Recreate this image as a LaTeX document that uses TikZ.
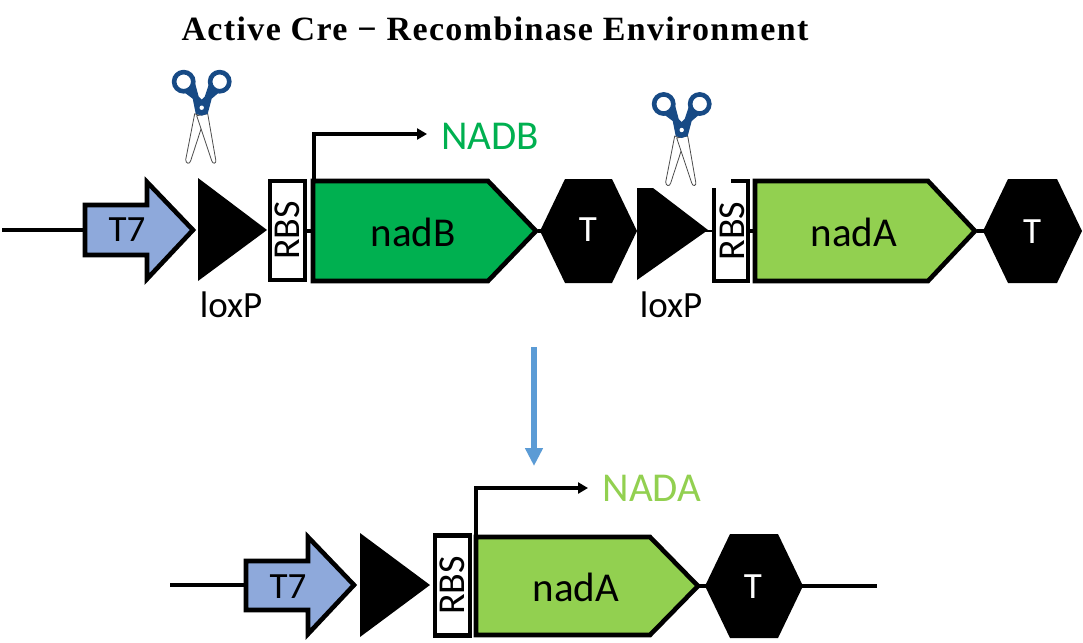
\documentclass[tikz,border=0pt]{standalone}
\usepackage{fontspec}
\usetikzlibrary{arrows.meta}
\setmainfont{Carlito}
\newfontfamily\titlefont{Liberation Serif}
\definecolor{tsev}{HTML}{8EA9DB}
\definecolor{nadbg}{HTML}{00B050}
\definecolor{nadag}{HTML}{92D050}
\definecolor{flow}{HTML}{5B9BD5}
\definecolor{scblue}{HTML}{174A85}
\tikzset{
  x=1pt,y=-1pt,
  part/.style={draw=black,line width=4.6pt,miter limit=10,line join=miter},
  wire/.style={draw=black,line width=3.8pt},
  prom/.style={draw=black,line width=3.6pt,-{Triangle[length=10pt,width=11pt]}},
  lab/.style={font=\fontsize{37}{39}\selectfont,inner sep=0pt,text=black},
  genelab/.style={font=\fontsize{41}{43}\selectfont,inner sep=0pt,text=black},
  rbsbox/.style={draw=black,fill=white,line width=4.6pt,minimum width=35pt,minimum height=100pt,inner sep=0pt},
  rbslab/.style={font=\fontsize{38}{40}\selectfont,rotate=90,inner sep=0pt},
  pics/shears/.style={code={
    \draw[line width=0.8pt,draw=black!70,fill=white,line join=round] (-7,6) -- (-16,52) .. controls (-16,56) and (-12,57) .. (-11,53) -- (3,10) -- cycle;
    \draw[line width=0.8pt,draw=black!70,fill=white,line join=round] (-5,8) -- (10,53) .. controls (11,57) and (15,56) .. (14,52) -- (6,6) -- cycle;
    \fill[scblue] (-17,-15) -- (-9,-9) -- (-6,6) -- (0,8) -- (6,6) -- (10,-9) -- (17,-15) -- (8,-26) -- (3,-11) -- (0,-8) -- (-3,-11) -- (-7,-26) -- cycle;
    \draw[scblue,line width=4.6pt] (-18,-26) circle[radius=9.6];
    \draw[scblue,line width=4.6pt] (18,-26) circle[radius=9.6];
    \fill[white] (0,0) circle[radius=2.2];
  }}
}
\begin{document}
\begin{tikzpicture}
\useasboundingbox (0,0) rectangle (1083,642);
\node[font=\titlefont\bfseries\fontsize{34}{36}\selectfont,inner sep=0pt] (title) at (495,29) {\addfontfeature{LetterSpace=4}Active Cre − Recombinase Environment};

% top row: anchor coordinates
\coordinate (startA) at (2,230);
\coordinate (t7A) at (85,230);
\coordinate (bA) at (313,231);
\coordinate (bT) at (538,231);
\coordinate (tA) at (541,231);
\coordinate (aA) at (755,231);
\coordinate (aT) at (977,231);
\coordinate (tB) at (985,231);
\coordinate (promA) at (314,181);
\coordinate (promAc) at (314,134);
\coordinate (promAe) at (427,134);

\node[rbsbox,minimum height=99pt] (rbsA) at (287.5,230.5) {};
\draw[wire] (startA) -- (t7A);
\draw[wire] (rbsA.east |- bA) -- (bA);
\draw[wire] (bT) -- (tA);
\draw[wire] (aT) -- (tB);
\draw[wire,line width=2.5pt] (705,231) -- (714,231);
\draw[wire] (750,231) -- (aA);

\draw[part,fill=tsev] (85,205) -- (147,205) -- (147,182) -- (193,230) -- (147,279) -- (147,255) -- (85,255) -- cycle;
\fill[black] (198,178) -- (267,230) -- (198,281) -- cycle;
\node[rbslab] (rbsAt) at (rbsA) {RBS};
\draw[part,fill=nadbg] (313,181) -- (488,181) -- (536,231) -- (488,281) -- (313,281) -- cycle;
\fill[black] (540,231) -- (565,179) -- (612,179) -- (637,231) -- (612,283) -- (565,283) -- cycle;
\fill[black] (637,188) -- (653,188) -- (708,230) -- (637,280) -- cycle;
\fill[white] (714,190) rectangle (748,281);
\draw[draw=black,line width=4.6pt] (731,181) -- (748,181) -- (748,281) -- (714,281) -- (714,188);
\node[rbslab] (rbsBt) at (732,231) {RBS};
\draw[part,fill=nadag] (755,181) -- (928,181) -- (975,231) -- (928,281) -- (755,281) -- cycle;
\fill[black] (983,231) -- (1008,179) -- (1057,179) -- (1082,231) -- (1057,283) -- (1008,283) -- cycle;
\draw[prom] (promA) -- (promAc) -- (promAe);

\node[lab] (t7l) at (127,230) {T7};
\node[lab] (loxl1) at (231,305) {loxP};
\node[genelab] (nadBl) at (413,232) {nadB};
\node[lab,text=white] (tl1) at (588,230) {T};
\node[lab] (loxl2) at (671,305) {loxP};
\node[genelab] (nadAl) at (854,232) {nadA};
\node[lab,text=white] (tl2) at (1032,232) {T};
\node[genelab,text=nadbg] (NADB) at (490,136) {NADB};

\pic at (201.7,107.7) {shears};
\pic at (681.7,130) {shears};

% flow arrow
\coordinate (flowS) at (534,347);
\coordinate (flowE) at (534,466);
\draw[draw=flow,fill=flow,line width=6pt,-{Triangle[length=18pt,width=17pt]}] (flowS) -- (flowE);

% bottom row
\coordinate (startC) at (170,585);
\coordinate (t7C) at (246,585);
\coordinate (tCe) at (802,586);
\coordinate (endC) at (877,586);
\coordinate (promC) at (476,537);
\coordinate (promCc) at (476,488);
\coordinate (promCe) at (588,488);
\coordinate (aCt) at (698,586);
\coordinate (tCa) at (706,586);
\draw[wire] (startC) -- (t7C);
\draw[wire] (tCe) -- (endC);
\draw[wire] (aCt) -- (tCa);
\draw[part,fill=tsev] (246,561) -- (308,561) -- (308,537) -- (354,585) -- (308,634) -- (308,610) -- (246,610) -- cycle;
\fill[black] (360,533) -- (430,585) -- (360,637) -- cycle;
\node[rbsbox,minimum height=100pt] (rbsC) at (452.5,585.5) {};
\node[rbslab] (rbsCt) at (rbsC) {RBS};
\draw[part,fill=nadag] (476,537) -- (650,537) -- (698,586) -- (650,635) -- (476,635) -- cycle;
\fill[black] (705,586) -- (730,534) -- (778,534) -- (803,586) -- (778,638) -- (730,638) -- cycle;
\draw[prom] (promC) -- (promCc) -- (promCe);
\node[lab] (t7l2) at (288,587) {T7};
\node[genelab] (nadAl2) at (576,587) {nadA};
\node[lab,text=white] (tl3) at (753,587) {T};
\node[genelab,text=nadag] (NADA) at (652,488) {NADA};
\end{tikzpicture}
\end{document}
